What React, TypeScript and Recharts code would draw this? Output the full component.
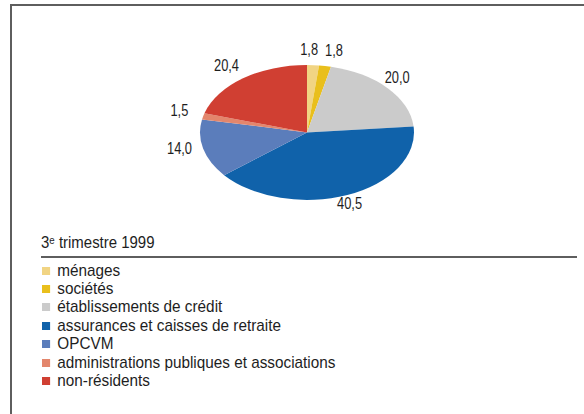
import React from 'react';
import { PieChart, Pie, Cell } from 'recharts';

const categories = [
  'ménages',
  'sociétés',
  'établissements de crédit',
  'assurances et caisses de retraite',
  'OPCVM',
  'administrations publiques et associations',
  'non-résidents',
];
const shares = [1.8, 1.8, 20.0, 40.5, 14.0, 1.5, 20.4];
const colors = ['#f1d483', '#e9bf1c', '#cbcbcb', '#1062aa', '#5b7dbb', '#e3866c', '#d03f32'];
const periodTitle = 'trimestre 1999';

const FONT = '"Liberation Sans", Arial, sans-serif';
const CX = 302;
const CY = 129.3;
const RX = 107;
const RY = 67.5;
const LABEL_R = 1.18;
const LABEL_SIZE = 16.5;
const LABEL_SQUEEZE = 0.78; // condensed look

const data = categories.map((name, i) => ({ name, value: shares[i] }));
const fmt = (v: number) => v.toFixed(1).replace('.', ',');

// label centres on a bigger ellipse, pushed apart when two small slices collide
const total = shares.reduce((a, b) => a + b, 0);
const labelPos = (() => {
  let acc = 0;
  const out: { x: number; y: number; w: number }[] = [];
  shares.forEach((v) => {
    const mid = ((acc + v / 2) / total) * 2 * Math.PI;
    acc += v;
    const text = fmt(v);
    const digit = 0.556 * LABEL_SIZE * LABEL_SQUEEZE;
    const w = (text.length - 1) * digit + digit / 2;
    let x = CX + RX * LABEL_R * Math.sin(mid);
    const y = CY - RY * LABEL_R * Math.cos(mid);
    const prev = out[out.length - 1];
    if (prev && Math.abs(prev.y - y) < 14 && x - w / 2 < prev.x + prev.w / 2 + 7) {
      x = prev.x + prev.w / 2 + 7 + w / 2;
    }
    out.push({ x, y, w });
  });
  return out;
})();

const renderLabel = (props: any) => {
  const p = labelPos[props.index];
  return (
    <text
      transform={`translate(${p.x},${p.y}) scale(${LABEL_SQUEEZE},1)`}
      x={0}
      y={0}
      textAnchor="middle"
      dominantBaseline="central"
      fontSize={LABEL_SIZE}
      fontFamily={FONT}
      fill="#1e1e1e"
    >
      {fmt(props.value)}
    </text>
  );
};

export default function App() {
  return (
    <div
      style={{
        position: 'absolute',
        left: 0,
        top: 0,
        width: 584,
        height: 414,
        overflow: 'hidden',
        background: '#fff',
        fontFamily: FONT,
      }}
    >
      <style>{`.ell-pie path.recharts-sector { transform: scaleY(${RY / RX}); transform-origin: ${CX}px ${CY}px; }`}</style>
      {/* frame */}
      <div
        style={{
          position: 'absolute',
          left: 10,
          top: 4,
          width: 600,
          height: 500,
          borderTop: '2px solid #5e5e5e',
          borderLeft: '2px solid #5e5e5e',
        }}
      />
      <div style={{ position: 'absolute', left: 0, top: 0 }}>
        <PieChart width={584} height={240} className="ell-pie">
          <Pie
            data={data}
            dataKey="value"
            nameKey="name"
            cx={CX}
            cy={CY}
            outerRadius={RX}
            startAngle={90}
            endAngle={-270}
            stroke="none"
            label={renderLabel}
            labelLine={false}
            isAnimationActive={false}
          >
            {data.map((d, i) => (
              <Cell key={d.name} fill={colors[i]} />
            ))}
          </Pie>
        </PieChart>
      </div>
      {/* legend */}
      <div
        style={{
          position: 'absolute',
          left: 41,
          top: 233,
          fontSize: 17,
          color: '#1e1e1e',
          lineHeight: '20px',
          transform: 'scaleX(0.88)',
          transformOrigin: 'left top',
          whiteSpace: 'nowrap',
        }}
      >
        3<sup style={{ fontSize: 11, verticalAlign: 'top', lineHeight: '14px' }}>e</sup> {periodTitle}
      </div>
      <div
        style={{
          position: 'absolute',
          left: 41,
          top: 256,
          width: 536,
          height: 2,
          background: '#5e5e5e',
        }}
      />
      <div
        style={{
          position: 'absolute',
          left: 42,
          top: 261.5,
          transform: 'scaleX(0.9)',
          transformOrigin: 'left top',
        }}
      >
        {categories.map((c, i) => (
          <div
            key={c}
            style={{
              display: 'flex',
              alignItems: 'center',
              height: 18.4,
              fontSize: 17,
              color: '#1e1e1e',
              whiteSpace: 'nowrap',
            }}
          >
            <span
              style={{
                display: 'inline-block',
                width: 9,
                height: 8,
                background: colors[i],
                marginRight: 8,
              }}
            />
            {c}
          </div>
        ))}
      </div>
    </div>
  );
}
